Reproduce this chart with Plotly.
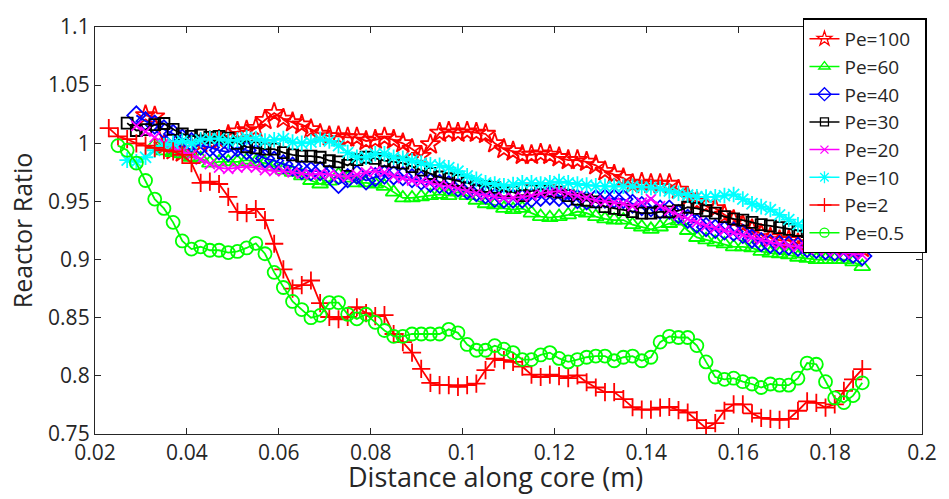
import numpy as np
import plotly.graph_objects as go

# sampling positions along the core (m)
distance = np.round(np.arange(0.023, 0.1875, 0.002), 3)

x_ticks = [0.02, 0.04, 0.06, 0.08, 0.1, 0.12, 0.14, 0.16, 0.18, 0.2]
x_tick_labels = ["0.02", "0.04", "0.06", "0.08", "0.1", "0.12", "0.14", "0.16", "0.18", "0.2"]
y_ticks = [0.75, 0.8, 0.85, 0.9, 0.95, 1.0, 1.05, 1.1]
y_tick_labels = ["0.75", "0.8", "0.85", "0.9", "0.95", "1", "1.05", "1.1"]

series_names = ["Pe=100", "Pe=60", "Pe=40", "Pe=30", "Pe=20", "Pe=10", "Pe=2", "Pe=0.5"]
start_index = {"Pe=100": 4, "Pe=60": 5, "Pe=40": 3, "Pe=30": 2, "Pe=20": 3, "Pe=10": 2, "Pe=2": 0, "Pe=0.5": 1}

pe100 = [1.024, 1.023, 0.998, 0.994, 0.992, 0.995, 1.0, 1.002, 1.003, 1.007, 1.010, 1.011, 1.013, 1.020,
         1.026, 1.021, 1.018, 1.016, 1.012, 1.008, 1.006, 1.006, 1.005, 1.005, 1.002, 1.003, 1.005, 1.003,
         1.0, 0.995, 0.989, 0.999, 1.009, 1.010, 1.009, 1.010, 1.009, 1.008, 1.0, 0.995, 0.993, 0.990,
         0.990, 0.991, 0.990, 0.988, 0.9855, 0.9855, 0.984, 0.981, 0.976, 0.973, 0.970, 0.965, 0.966,
         0.965, 0.965, 0.965, 0.960, 0.954, 0.9496, 0.947, 0.944, 0.9385, 0.934, 0.930, 0.926, 0.922,
         0.919, 0.9165, 0.9165, 0.914, 0.913, 0.912, 0.912, 0.910, 0.910, 0.908, 0.910]
pe60 = [0.999, 0.9935, 0.992, 0.991, 0.988, 0.987, 0.983, 0.984, 0.984, 0.984, 0.9855, 0.984, 0.983, 0.980,
        0.977, 0.975, 0.972, 0.968, 0.965, 0.9675, 0.973, 0.970, 0.966, 0.966, 0.965, 0.963, 0.958, 0.953,
        0.953, 0.954, 0.955, 0.956, 0.955, 0.958, 0.955, 0.951, 0.948, 0.947, 0.944, 0.943, 0.944, 0.940,
        0.937, 0.936, 0.937, 0.9385, 0.9413, 0.940, 0.937, 0.935, 0.934, 0.934, 0.930, 0.928, 0.926, 0.928,
        0.931, 0.933, 0.925, 0.919, 0.917, 0.915, 0.9135, 0.911, 0.911, 0.910, 0.907, 0.9055, 0.905, 0.904,
        0.902, 0.901, 0.900, 0.900, 0.900, 0.900, 0.898, 0.894]
pe40 = [1.024, 1.019, 1.016, 1.012, 1.008, 1.004, 1.001, 0.998, 0.9966, 0.994, 0.9925, 0.9966, 0.994, 0.991,
        0.987, 0.985, 0.982, 0.980, 0.977, 0.976, 0.976, 0.973, 0.965, 0.970, 0.973, 0.968, 0.971, 0.973,
        0.9725, 0.9717, 0.970, 0.968, 0.966, 0.965, 0.964, 0.962, 0.960, 0.958, 0.956, 0.953, 0.9524, 0.9524,
        0.9524, 0.953, 0.954, 0.955, 0.954, 0.953, 0.952, 0.951, 0.952, 0.9524, 0.9524, 0.952, 0.948, 0.946,
        0.945, 0.943, 0.943, 0.939, 0.935, 0.931, 0.928, 0.9265, 0.925, 0.924, 0.922, 0.918, 0.915, 0.9136,
        0.9125, 0.912, 0.911, 0.910, 0.909, 0.908, 0.907, 0.906, 0.905, 0.903]
pe30 = [1.0173, 1.011, 1.0118, 1.016, 1.017, 1.012, 1.008, 1.006, 1.007, 1.005, 1.006, 1.0045, 1.0, 0.997,
        0.996, 0.995, 0.995, 0.992, 0.990, 0.989, 0.989, 0.988, 0.985, 0.984, 0.981, 0.986, 0.988, 0.987,
        0.985, 0.984, 0.983, 0.980, 0.977, 0.974, 0.971, 0.9695, 0.968, 0.966, 0.964, 0.963, 0.962, 0.959,
        0.958, 0.955, 0.959, 0.9605, 0.959, 0.958, 0.955, 0.952, 0.951, 0.9496, 0.9455, 0.944, 0.943, 0.9413,
        0.940, 0.940, 0.941, 0.941, 0.942, 0.945, 0.944, 0.942, 0.940, 0.937, 0.935, 0.934, 0.932, 0.930,
        0.929, 0.9275, 0.926, 0.925, 0.924, 0.923, 0.922, 0.921, 0.920, 0.920, 0.919]
pe20 = [1.015, 1.010, 1.005, 1.0, 0.996, 0.993, 0.990, 0.986, 0.982, 0.979, 0.978, 0.979, 0.980, 0.979,
        0.977, 0.976, 0.976, 0.975, 0.974, 0.973, 0.974, 0.973, 0.972, 0.971, 0.973, 0.975, 0.976, 0.975,
        0.972, 0.970, 0.968, 0.967, 0.966, 0.964, 0.963, 0.961, 0.959, 0.957, 0.955, 0.954, 0.953, 0.953,
        0.954, 0.955, 0.957, 0.958, 0.959, 0.957, 0.955, 0.953, 0.951, 0.950, 0.949, 0.948, 0.946, 0.949,
        0.952, 0.946, 0.942, 0.938, 0.935, 0.932, 0.929, 0.927, 0.925, 0.923, 0.921, 0.919, 0.917, 0.915,
        0.913, 0.912, 0.911, 0.910, 0.909, 0.908, 0.907, 0.906, 0.905, 0.904]
pe10 = [0.9855, 0.984, 0.988, 0.994, 0.998, 1.0, 1.002, 1.0, 1.003, 1.004, 1.004, 1.002, 1.003, 1.005,
        1.004, 1.002, 1.003, 1.004, 1.001, 1.0, 1.001, 1.0035, 1.002, 0.998, 0.992, 0.988, 0.988, 0.991,
        0.991, 0.988, 0.987, 0.985, 0.983, 0.9815, 0.981, 0.979, 0.976, 0.972, 0.969, 0.966, 0.965, 0.9634,
        0.9645, 0.966, 0.966, 0.965, 0.966, 0.967, 0.966, 0.965, 0.964, 0.9634, 0.963, 0.963, 0.963, 0.963,
        0.962, 0.962, 0.961, 0.959, 0.957, 0.9555, 0.954, 0.9538, 0.954, 0.955, 0.956, 0.952, 0.948, 0.9455,
        0.943, 0.9385, 0.9344, 0.930, 0.928, 0.926, 0.924, 0.922, 0.920, 0.918, 0.916]
pe2 = [1.013, 1.006, 1.0035, 1.0, 0.998, 0.996, 0.994, 0.993, 0.990, 0.983, 0.966, 0.967, 0.965, 0.954,
       0.941, 0.940, 0.9435, 0.934, 0.9136, 0.8916, 0.875, 0.878, 0.882, 0.8626, 0.8506, 0.8487, 0.8506,
       0.859, 0.854, 0.8514, 0.8523, 0.836, 0.829, 0.820, 0.806, 0.794, 0.792, 0.792, 0.7906, 0.792, 0.7934,
       0.805, 0.8147, 0.8136, 0.812, 0.808, 0.801, 0.799, 0.801, 0.7998, 0.798, 0.8005, 0.7945, 0.790,
       0.786, 0.786, 0.780, 0.773, 0.771, 0.771, 0.7727, 0.7732, 0.7705, 0.7685, 0.762, 0.755, 0.7594,
       0.770, 0.7755, 0.7755, 0.7677, 0.7638, 0.763, 0.7622, 0.763, 0.770, 0.778, 0.7768, 0.7727, 0.7755,
       0.787, 0.797, 0.8058]
pe05 = [0.998, 0.994, 0.983, 0.968, 0.952, 0.944, 0.932, 0.916, 0.909, 0.911, 0.908, 0.908, 0.906, 0.907,
        0.910, 0.914, 0.905, 0.889, 0.876, 0.864, 0.857, 0.850, 0.852, 0.863, 0.863, 0.853, 0.849, 0.853,
        0.846, 0.839, 0.834, 0.834, 0.836, 0.836, 0.836, 0.836, 0.840, 0.837, 0.827, 0.822, 0.822, 0.826,
        0.823, 0.820, 0.814, 0.814, 0.818, 0.820, 0.815, 0.812, 0.814, 0.816, 0.817, 0.817, 0.813, 0.816,
        0.817, 0.813, 0.816, 0.829, 0.834, 0.833, 0.833, 0.826, 0.812, 0.799, 0.797, 0.798, 0.795, 0.793,
        0.790, 0.793, 0.792, 0.792, 0.798, 0.811, 0.810, 0.795, 0.781, 0.777, 0.783, 0.794]

values = {"Pe=100": pe100, "Pe=60": pe60, "Pe=40": pe40, "Pe=30": pe30,
          "Pe=20": pe20, "Pe=10": pe10, "Pe=2": pe2, "Pe=0.5": pe05}

colors = {"Pe=100": "#FF0000", "Pe=60": "#00FF00", "Pe=40": "#0000FF", "Pe=30": "#000000",
          "Pe=20": "#FF00FF", "Pe=10": "#00FFFF", "Pe=2": "#FF0000", "Pe=0.5": "#00FF00"}
symbols = {"Pe=100": "star-open", "Pe=60": "triangle-up-open", "Pe=40": "diamond-open",
           "Pe=30": "square-open", "Pe=20": "x-thin-open", "Pe=10": "asterisk-open",
           "Pe=2": "cross-thin-open", "Pe=0.5": "circle-open"}
sizes = {"Pe=100": 15, "Pe=60": 14, "Pe=40": 14, "Pe=30": 11,
         "Pe=20": 10, "Pe=10": 13, "Pe=2": 13, "Pe=0.5": 13}
legend_sizes = {"Pe=100": 11, "Pe=60": 10, "Pe=40": 10, "Pe=30": 8,
                "Pe=20": 8, "Pe=10": 10, "Pe=2": 10, "Pe=0.5": 9}

fig = go.Figure()
for name in series_names:
    ys = values[name]
    s = start_index[name]
    xs = distance[s:s + len(ys)]
    fig.add_trace(go.Scatter(
        x=xs, y=ys, name=name, mode="lines+markers", showlegend=False, legendgroup=name,
        line=dict(color=colors[name], width=1.8),
        marker=dict(symbol=symbols[name], size=sizes[name], color=colors[name],
                    line=dict(color=colors[name], width=1.8)),
    ))
# legend entries (smaller sample markers, as in the reference legend)
for name in series_names:
    fig.add_trace(go.Scatter(
        x=[None], y=[None], name=name + "\u00a0\u00a0", mode="lines+markers", legendgroup=name,
        line=dict(color=colors[name], width=1.5),
        marker=dict(symbol=symbols[name], size=legend_sizes[name], color=colors[name],
                    line=dict(color=colors[name], width=1.3)),
    ))

axis_common = dict(
    showline=True, linecolor="#262626", linewidth=1.3, mirror="ticks",
    ticks="inside", ticklen=6, tickwidth=1, tickcolor="#262626",
    showgrid=False, zeroline=False, ticklabeloverflow="allow",
    tickfont=dict(family="Open Sans", size=21, color="#262626"),
)

fig.update_layout(
    width=949, height=499,
    margin=dict(l=95, r=16, t=12, b=65),
    paper_bgcolor="white", plot_bgcolor="white",
    xaxis=dict(range=[0.02, 0.2], tickmode="array", tickvals=x_ticks, ticktext=x_tick_labels,
               **axis_common),
    yaxis=dict(range=[0.75, 1.1], tickmode="array", tickvals=y_ticks, ticktext=y_tick_labels,
               title=dict(text="Reactor Ratio", standoff=8,
                          font=dict(family="Open Sans", size=25, color="#262626")),
               **axis_common),
    legend=dict(x=1.006, y=1.021, xanchor="right", yanchor="top",
                bgcolor="white", bordercolor="#000000", borderwidth=1.5,
                font=dict(family="Open Sans", size=19, color="#262626"),
                tracegroupgap=0, itemwidth=30),
    showlegend=True,
    annotations=[dict(text="Distance along core (m)", xref="paper", yref="paper",
                      x=(501 - 95) / 838, y=-(478 - 434) / 422, xanchor="center", yanchor="middle",
                      showarrow=False, font=dict(family="Open Sans", size=27, color="#262626"))],
)

fig.write_html("out.html")
